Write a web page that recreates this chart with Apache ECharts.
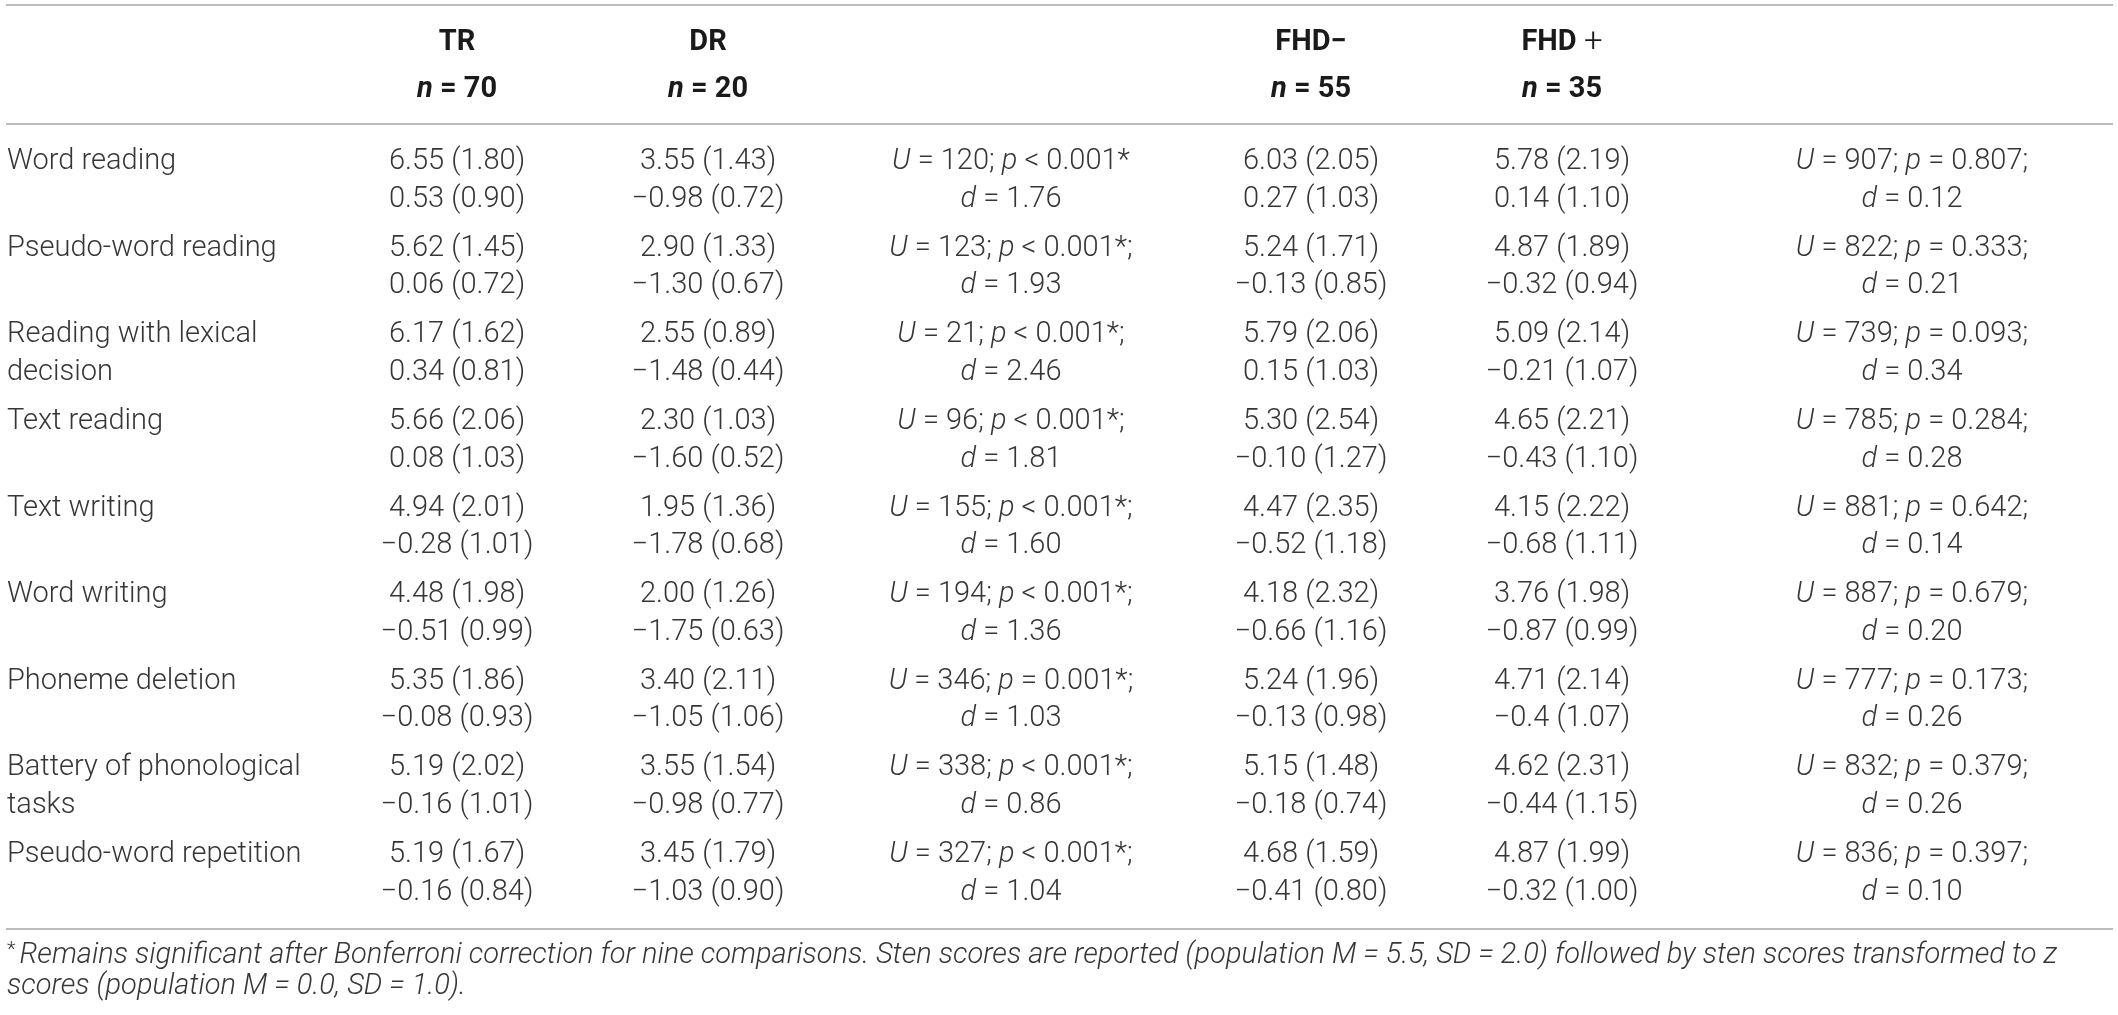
<!DOCTYPE html>
<html>
<head>
<meta charset="utf-8">
<script src="https://cdn.jsdelivr.net/npm/echarts@6/dist/echarts.min.js"></script>
<style>
  html, body { margin: 0; padding: 0; background: #ffffff; }
  #chart { width: 2118px; height: 1015px; }
</style>
</head>
<body>
<div id="chart"></div>
<script>
// ---------- data ----------
const rowLabels = [
  'Word reading',
  'Pseudo-word reading',
  'Reading with lexical\ndecision',
  'Text reading',
  'Text writing',
  'Word writing',
  'Phoneme deletion',
  'Battery of phonological\ntasks',
  'Pseudo-word repetition'
];
const headGroups = ['TR', 'DR', 'FHD−', 'FHD {pl|+}'];
const headN = [70, 20, 55, 35];

const trSten = ['6.55 (1.80)', '5.62 (1.45)', '6.17 (1.62)', '5.66 (2.06)', '4.94 (2.01)', '4.48 (1.98)', '5.35 (1.86)', '5.19 (2.02)', '5.19 (1.67)'];
const trZ    = ['0.53 (0.90)', '0.06 (0.72)', '0.34 (0.81)', '0.08 (1.03)', '−0.28 (1.01)', '−0.51 (0.99)', '−0.08 (0.93)', '−0.16 (1.01)', '−0.16 (0.84)'];
const drSten = ['3.55 (1.43)', '2.90 (1.33)', '2.55 (0.89)', '2.30 (1.03)', '1.95 (1.36)', '2.00 (1.26)', '3.40 (2.11)', '3.55 (1.54)', '3.45 (1.79)'];
const drZ    = ['−0.98 (0.72)', '−1.30 (0.67)', '−1.48 (0.44)', '−1.60 (0.52)', '−1.78 (0.68)', '−1.75 (0.63)', '−1.05 (1.06)', '−0.98 (0.77)', '−1.03 (0.90)'];
const test1U = [120, 123, 21, 96, 155, 194, 346, 338, 327];
const test1P = ['< 0.001*', '< 0.001*;', '< 0.001*;', '< 0.001*;', '< 0.001*;', '< 0.001*;', '= 0.001*;', '< 0.001*;', '< 0.001*;'];
const test1D = ['1.76', '1.93', '2.46', '1.81', '1.60', '1.36', '1.03', '0.86', '1.04'];

const fmSten = ['6.03 (2.05)', '5.24 (1.71)', '5.79 (2.06)', '5.30 (2.54)', '4.47 (2.35)', '4.18 (2.32)', '5.24 (1.96)', '5.15 (1.48)', '4.68 (1.59)'];
const fmZ    = ['0.27 (1.03)', '−0.13 (0.85)', '0.15 (1.03)', '−0.10 (1.27)', '−0.52 (1.18)', '−0.66 (1.16)', '−0.13 (0.98)', '−0.18 (0.74)', '−0.41 (0.80)'];
const fpSten = ['5.78 (2.19)', '4.87 (1.89)', '5.09 (2.14)', '4.65 (2.21)', '4.15 (2.22)', '3.76 (1.98)', '4.71 (2.14)', '4.62 (2.31)', '4.87 (1.99)'];
const fpZ    = ['0.14 (1.10)', '−0.32 (0.94)', '−0.21 (1.07)', '−0.43 (1.10)', '−0.68 (1.11)', '−0.87 (0.99)', '−0.4 (1.07)', '−0.44 (1.15)', '−0.32 (1.00)'];
const test2U = [907, 822, 739, 785, 881, 887, 777, 832, 836];
const test2P = ['0.807', '0.333', '0.093', '0.284', '0.642', '0.679', '0.173', '0.379', '0.397'];
const test2D = ['0.12', '0.21', '0.34', '0.28', '0.14', '0.20', '0.26', '0.26', '0.10'];

const footnote = [
  '{sup|*}Remains significant after Bonferroni correction for nine comparisons. Sten scores are reported (population M = 5.5, SD = 2.0) followed by sten scores transformed to z',
  'scores (population M = 0.0, SD = 1.0).'
];

// ---------- layout (positions in axis units) ----------
const W = 2118, H = 1015;
const colX = { label: 7, tr: 457, dr: 708, t1: 1011, fm: 1311, fp: 1562, t2: 1912 };
const headY = [43, 90];
const rowY0 = 162, rowPitch = 86.6, lineGap = 37.5;
const footY = [956, 987];
const rules = [ { y: 5 }, { y: 124 }, { y: 929 } ];
const ruleX = [6, 2113];

const FONT = 'Roboto, "Liberation Sans", Arial, sans-serif';
const FS = 29;
const TXT = '#363636';

// ---------- cells ----------
const cells = [];
function add(x, y, text, kind, align) { cells.push({ value: [x, y], text, kind, align: align || 'center' }); }

const groupCols = [colX.tr, colX.dr, colX.fm, colX.fp];
headGroups.forEach((g, k) => {
  add(groupCols[k], headY[0], g, 'head');
  add(groupCols[k], headY[1], '{bi|n} = ' + headN[k], 'head');
});

rowLabels.forEach((lab, i) => {
  const y = rowY0 + i * rowPitch;
  lab.split('\n').forEach((ln, k) => add(colX.label, y + k * lineGap, ln, 'body', 'left'));
  add(colX.tr, y, trSten[i], 'body');
  add(colX.tr, y + lineGap, trZ[i], 'body');
  add(colX.dr, y, drSten[i], 'body');
  add(colX.dr, y + lineGap, drZ[i], 'body');
  add(colX.t1, y, '{i|U} = ' + test1U[i] + '; {i|p} ' + test1P[i], 'body');
  add(colX.t1, y + lineGap, '{i|d} = ' + test1D[i], 'body');
  add(colX.fm, y, fmSten[i], 'body');
  add(colX.fm, y + lineGap, fmZ[i], 'body');
  add(colX.fp, y, fpSten[i], 'body');
  add(colX.fp, y + lineGap, fpZ[i], 'body');
  add(colX.t2, y, '{i|U} = ' + test2U[i] + '; {i|p} = ' + test2P[i] + ';', 'body');
  add(colX.t2, y + lineGap, '{i|d} = ' + test2D[i], 'body');
});
footnote.forEach((ln, k) => add(7, footY[k], ln, 'foot', 'left'));

const richBody = {
  i: { fontStyle: 'italic', fontSize: FS, fontFamily: FONT, fontWeight: 300, fill: TXT }
};
const richHead = {
  bi: { fontStyle: 'italic', fontWeight: 'bold', fontSize: FS, fontFamily: FONT, fill: '#1a1a1a' },
  pl: { fontWeight: 300, fontSize: FS + 4, fontFamily: FONT, fill: '#1a1a1a' }
};
const richFoot = {
  sup: { fontStyle: 'normal', fontSize: 20, fontFamily: FONT, fontWeight: 300, fill: TXT, verticalAlign: 'top', padding: [0, 4, 10, 0] }
};

const chart = echarts.init(document.getElementById('chart'), null, { renderer: 'canvas' });
chart.setOption({
  backgroundColor: '#ffffff',
  animation: false,
  grid: { left: 0, right: 0, top: 0, bottom: 0 },
  xAxis: { type: 'value', min: 0, max: W, show: false },
  yAxis: { type: 'value', min: 0, max: H, inverse: true, show: false },
  series: [
    {
      type: 'custom',
      coordinateSystem: 'cartesian2d',
      data: rules.map(r => [ruleX[0], r.y, ruleX[1]]),
      renderItem: function (params, api) {
        const a = api.coord([api.value(0), api.value(1)]);
        const b = api.coord([api.value(2), api.value(1)]);
        return { type: 'line', shape: { x1: a[0], y1: a[1], x2: b[0], y2: b[1] }, style: { stroke: '#a6a6a6', lineWidth: 1.6 } };
      }
    },
    {
      type: 'custom',
      coordinateSystem: 'cartesian2d',
      data: cells.map(c => c.value),
      renderItem: function (params, api) {
        const c = cells[params.dataIndex];
        const p = api.coord([api.value(0), api.value(1)]);
        const isHead = c.kind === 'head', isFoot = c.kind === 'foot';
        return {
          type: 'text',
          x: p[0], y: p[1],
          style: {
            text: c.text,
            fontSize: FS,
            fontFamily: FONT,
            fontWeight: isHead ? 'bold' : 300,
            fontStyle: isFoot ? 'italic' : 'normal',
            fill: isHead ? '#1a1a1a' : TXT,
            align: c.align,
            verticalAlign: 'middle',
            rich: isHead ? richHead : (isFoot ? richFoot : richBody)
          }
        };
      }
    }
  ]
});
</script>
</body>
</html>
